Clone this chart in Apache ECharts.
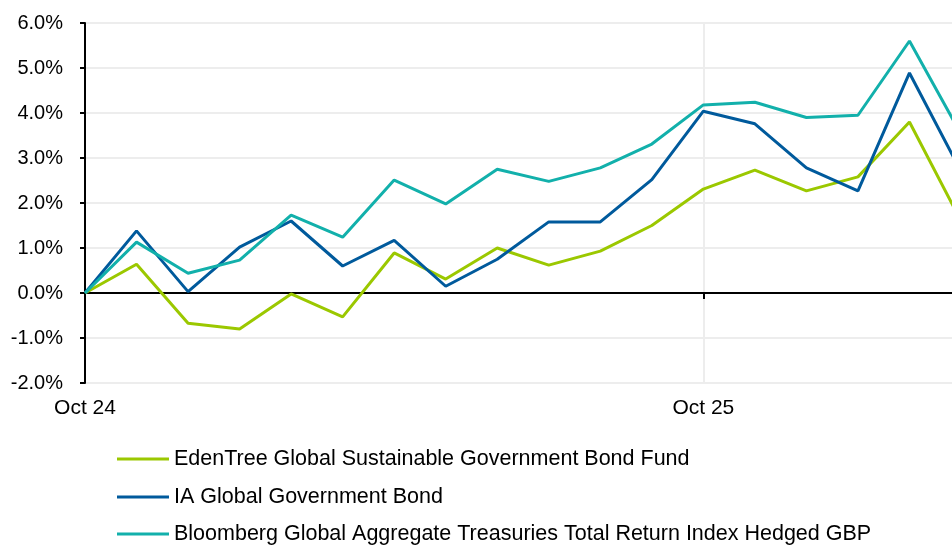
<!DOCTYPE html>
<html>
<head>
<meta charset="utf-8">
<script src="https://cdn.jsdelivr.net/npm/echarts@6/dist/echarts.min.js"></script>
<style>
html,body{margin:0;padding:0;background:#fff;}
#chart{width:952px;height:547px;}
</style>
</head>
<body>
<div id="chart"></div>
<script>
var categories = ['Oct 24','Nov 24','Dec 24','Jan 25','Feb 25','Mar 25','Apr 25','May 25','Jun 25','Jul 25','Aug 25','Sep 25','Oct 25','Nov 25','Dec 25','Jan 26','Feb 26','Mar 26'];
var edenTree = [0, 0.64, -0.67, -0.80, -0.02, -0.53, 0.89, 0.31, 1.00, 0.62, 0.93, 1.50, 2.31, 2.73, 2.27, 2.58, 3.80, 1.60];
var iaGlobal = [0, 1.38, 0.03, 1.02, 1.60, 0.60, 1.17, 0.15, 0.75, 1.58, 1.58, 2.52, 4.04, 3.76, 2.78, 2.27, 4.89, 2.70];
var bloomberg = [0, 1.13, 0.44, 0.73, 1.73, 1.24, 2.51, 1.98, 2.75, 2.48, 2.78, 3.31, 4.18, 4.24, 3.90, 3.95, 5.60, 3.53];
var seriesNames = ['EdenTree Global Sustainable Government Bond Fund', 'IA Global Government Bond', 'Bloomberg Global Aggregate Treasuries Total Return Index Hedged GBP'];
var colors = ['#9BC800', '#005A9C', '#12B0AB'];

var chart = echarts.init(document.getElementById('chart'));
var font = 'Liberation Sans, Arial, sans-serif';
function mk(name, data, color) {
  return {
    name: name, type: 'line', data: data, xAxisIndex: 0,
    symbol: 'none', smooth: false,
    lineStyle: {color: color, width: 3},
    itemStyle: {color: color}
  };
}
function lg(i, top) {
  return {
    orient: 'vertical', left: 117, top: top, padding: 0,
    itemWidth: 52, itemHeight: 3, itemGap: 0,
    icon: 'rect',
    textStyle: {fontFamily: font, fontSize: 21.5, color: '#000', lineHeight: 24},
    data: [seriesNames[i]]
  };
}
chart.setOption({
  animation: false,
  color: colors,
  grid: {left: 85, width: 876, top: 23, bottom: 164, containLabel: false, outerBoundsMode: 'none'},
  legend: [lg(0, 447), lg(1, 485), lg(2, 522)],
  xAxis: [{
    type: 'category', data: categories, boundaryGap: false,
    axisLine: {show: true, onZero: true, lineStyle: {color: '#000', width: 2}},
    axisTick: {show: true, interval: 11, length: 6, lineStyle: {color: '#000', width: 2}},
    axisLabel: {show: false},
    splitLine: {show: false}
  }, {
    type: 'category', data: categories, boundaryGap: false, position: 'bottom',
    axisLine: {show: false, onZero: false},
    axisTick: {show: false},
    axisLabel: {show: true, interval: 11, margin: 15, fontFamily: font, fontSize: 21, color: '#000'},
    splitLine: {show: true, interval: 11, lineStyle: {color: '#EDEDED', width: 2}}
  }],
  yAxis: {
    type: 'value', min: -2, max: 6, interval: 1,
    axisLine: {show: true, lineStyle: {color: '#000', width: 2}},
    axisTick: {show: true, length: 5, lineStyle: {color: '#000', width: 2}},
    axisLabel: {margin: 22, fontFamily: font, fontSize: 20, color: '#000', formatter: function(v){return v.toFixed(1) + '%';}},
    splitLine: {show: true, lineStyle: {color: '#EDEDED', width: 2}}
  },
  series: [
    mk(seriesNames[0], edenTree, colors[0]),
    mk(seriesNames[1], iaGlobal, colors[1]),
    mk(seriesNames[2], bloomberg, colors[2])
  ]
});
</script>
</body>
</html>
